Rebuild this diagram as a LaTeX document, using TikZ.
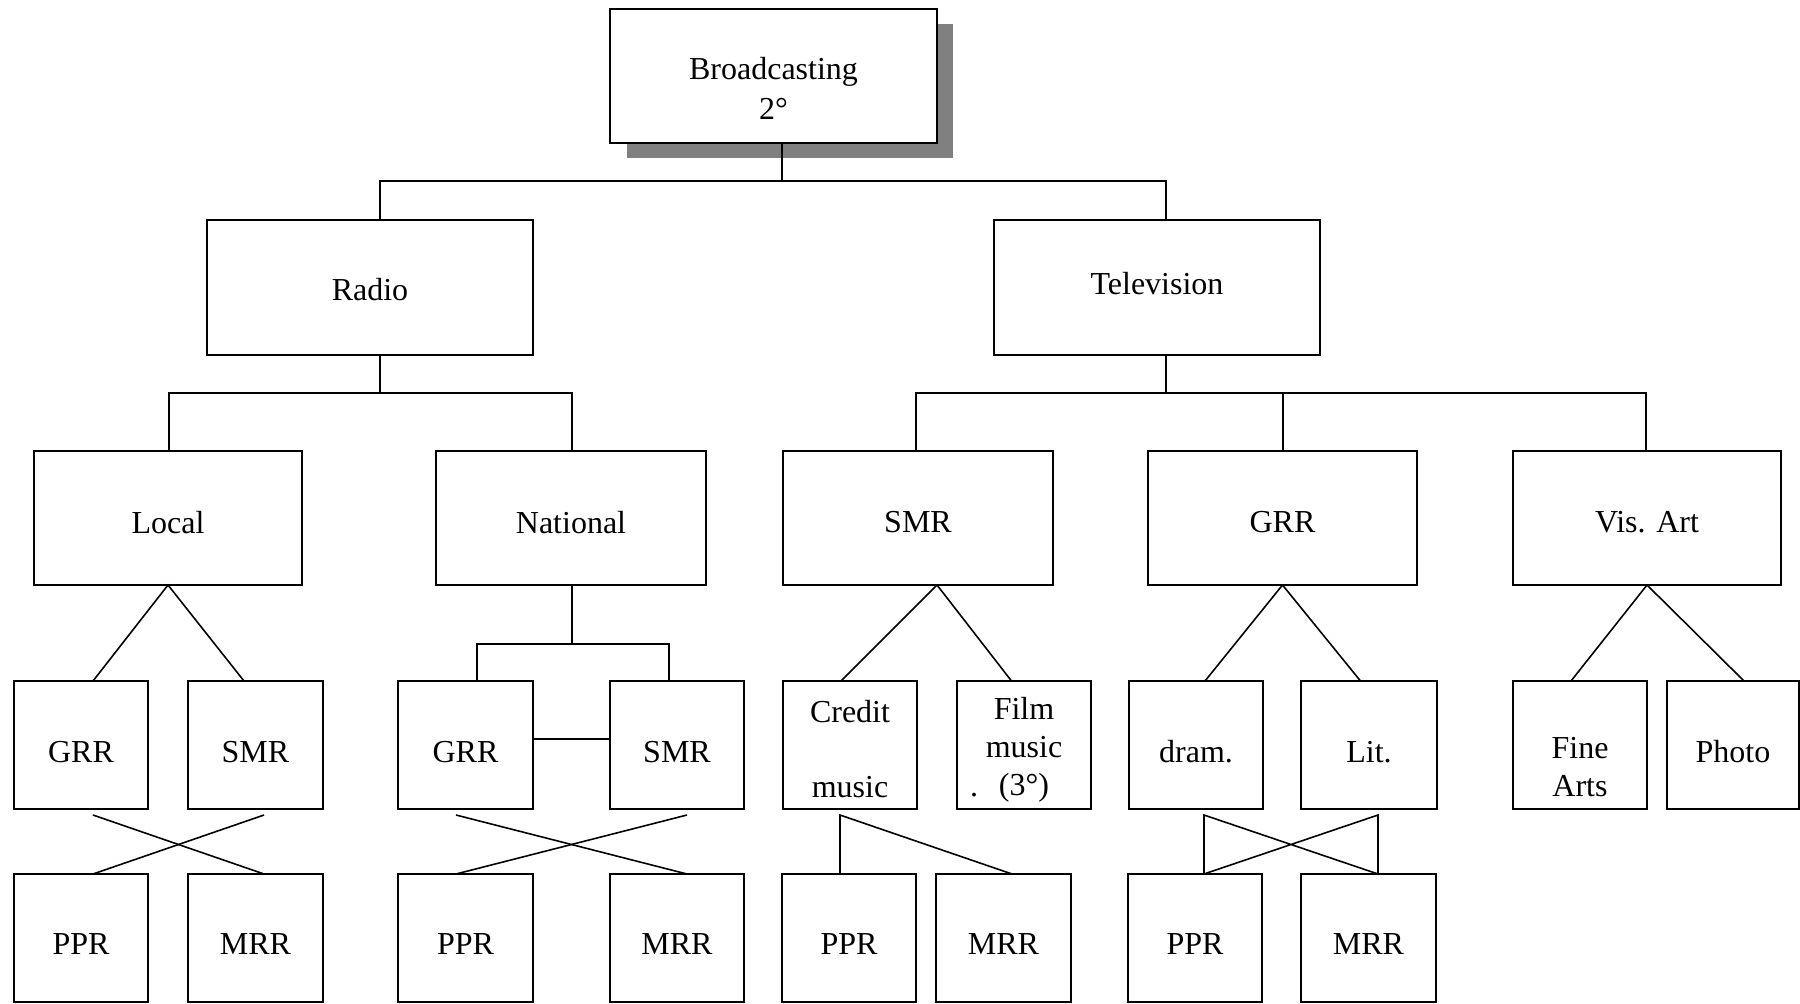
\documentclass[tikz,border=0pt]{standalone}
\usepackage{fontspec}
\setmainfont{Liberation Serif}
\usetikzlibrary{calc,backgrounds}

% box given by its corners (pixel units), with its text shifted by dy
\newcommand\pbox[7]{%
  \pgfmathsetmacro\pbcx{(#2+#4)/2}%
  \pgfmathsetmacro\pbcy{(#3+#5)/2}%
  \pgfmathsetmacro\pbw{(#4-#2)*0.01}%
  \pgfmathsetmacro\pbh{(#5-#3)*0.01}%
  \node[boxnode, minimum width=\pbw cm, minimum height=\pbh cm] (#1) at (\pbcx,\pbcy) {};
  \node[txt] (#1-label) at ($(#1.center)+(0,#6)$) {#7};
}

\tikzset{
  boxnode/.style={draw=black, fill=white, rectangle, inner sep=0pt, outer sep=0pt, line width=0.45pt},
  txt/.style={inner sep=0pt, align=center, font=\fontsize{9.1}{10.8}\selectfont},
  tighttxt/.style={font=\fontsize{9.1}{10.3}\selectfont},
  link/.style={draw=black, line width=0.45pt},
}

\begin{document}
\begin{tikzpicture}[x=0.01cm, y=-0.01cm]
\useasboundingbox (0,0) rectangle (1800,1003);

% level 1
\pbox{bc}{610}{9}{937}{143}{12}{Broadcasting\\[0.6pt]2°}
\begin{scope}[on background layer]
  \fill[black!50] ($(bc.south west)+(17,15)$) rectangle ($(bc.north east)+(16,15)$);
\end{scope}

% level 2
\pbox{radio}{207}{220}{533}{355}{2}{Radio}
\pbox{tv}{994}{220}{1320}{355}{-4}{Television}

% level 3
\pbox{local}{34}{451}{302}{585}{4.5}{Local}
\pbox{nat}{436}{451}{706}{585}{4.5}{National}
\pbox{tsmr}{783}{451}{1053}{585}{4.5}{SMR}
\pbox{tgrr}{1148}{451}{1417}{585}{4.5}{GRR}
\pbox{vis}{1513}{451}{1781}{585}{4.5}{Vis. Art}

% level 4
\pbox{lgrr}{14}{681}{148}{809}{7}{GRR}
\pbox{lsmr}{188}{681}{323}{809}{7}{SMR}
\pbox{ngrr}{398}{681}{533}{809}{7}{GRR}
\pbox{nsmr}{610}{681}{744}{809}{7}{SMR}
\pbox{credit}{783}{681}{917}{809}{4}{\fontsize{9.1}{10.3}\selectfont Credit\\[10.3pt]music}
\pbox{film}{957}{681}{1091}{809}{5}{\fontsize{9.1}{10.3}\selectfont Film\\music\\(3°)}
\pbox{dram}{1129}{681}{1263}{809}{7}{dram.}
\pbox{lit}{1301}{681}{1437}{809}{7}{Lit.}
\pbox{fine}{1513}{681}{1647}{809}{22}{\fontsize{9.1}{10.3}\selectfont Fine\\Arts}
\pbox{photo}{1667}{681}{1799}{809}{7}{Photo}
\node[txt] (filmdot) at (974,795) {.};

% level 5
\pbox{lppr}{14}{874}{148}{1002}{6}{PPR}
\pbox{lmrr}{188}{874}{323}{1002}{6}{MRR}
\pbox{nppr}{398}{874}{533}{1002}{6}{PPR}
\pbox{nmrr}{610}{874}{744}{1002}{6}{MRR}
\pbox{cppr}{782}{874}{916}{1002}{6}{PPR}
\pbox{cmrr}{936}{874}{1071}{1002}{6}{MRR}
\pbox{gppr}{1128}{874}{1262}{1002}{6}{PPR}
\pbox{gmrr}{1301}{874}{1436}{1002}{6}{MRR}

% connectors: level 1 to 2
\draw[link] ($(bc.south)+(8.5,0)$) -- ++(0,38);
\draw[link] ($(radio.north)+(10,0)$) |- ($(tv.north)+(9,-39)$) -- ($(tv.north)+(9,0)$);

% radio branch
\draw[link] ($(radio.south)+(10,0)$) -- ++(0,38);
\draw[link] ($(local.north)+(1,0)$) |- ($(nat.north)+(1,-58)$) -- ($(nat.north)+(1,0)$);

% television branch
\draw[link] ($(tv.south)+(9,0)$) -- ++(0,38);
\draw[link] ($(tsmr.north)+(-2,0)$) |- ($(vis.north)+(-1,-58)$) -- ($(vis.north)+(-1,0)$);
\draw[link] ($(tgrr.north)+(0.5,0)$) -- ++(0,-58);

% level 3 to 4
\draw[link] ($(lgrr.north)+(12,0)$) -- (local.south) -- ($(lsmr.north)+(-11.5,0)$);
\draw[link] ($(nat.south)+(1,0)$) -- ++(0,59);
\draw[link] ($(ngrr.north)+(11.5,0)$) |- ($(nsmr.north)+(-8,-37)$) -- ($(nsmr.north)+(-8,0)$);
\draw[link] ($(ngrr.east)+(0,-6)$) -- ($(nsmr.west)+(0,-6)$);
\draw[link] ($(credit.north)+(-9,0)$) -- ($(tsmr.south)+(19,0)$) -- ($(film.north)+(-12.5,0)$);
\draw[link] ($(dram.north)+(9,0)$) -- (tgrr.south) -- ($(lit.north)+(-8.5,0)$);
\draw[link] ($(fine.north)+(-9,0)$) -- (vis.south) -- ($(photo.north)+(11,0)$);

% level 4 to 5
\draw[link] ($(lgrr.south)+(12,6)$) -- ($(lmrr.north)+(8.5,0)$);
\draw[link] ($(lsmr.south)+(8.5,6)$) -- ($(lppr.north)+(12,0)$);
\draw[link] ($(ngrr.south)+(-9.5,6)$) -- ($(nmrr.north)+(10,0)$);
\draw[link] ($(nsmr.south)+(10,6)$) -- ($(nppr.north)+(-9.5,0)$);
\draw[link] ($(cppr.north)+(-9,0)$) -- ++(0,-59) -- ($(cmrr.north)+(8.5,0)$);
\draw[link] ($(gppr.north)+(9,0)$) -- ++(0,-59) -- ($(gmrr.north)+(9.5,0)$) -- ++(0,-59) -- ($(gppr.north)+(9,0)$);
\end{tikzpicture}
\end{document}
